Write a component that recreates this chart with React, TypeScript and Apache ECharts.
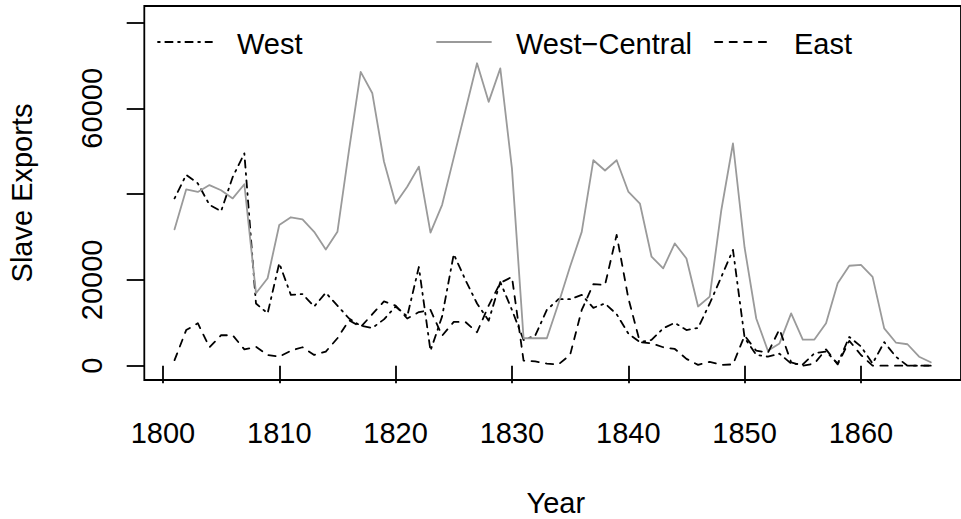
import React, { useEffect, useRef } from "react";
import * as echarts from "echarts";

const years = [
  1801, 1802, 1803, 1804, 1805, 1806, 1807, 1808, 1809, 1810,
  1811, 1812, 1813, 1814, 1815, 1816, 1817, 1818, 1819, 1820,
  1821, 1822, 1823, 1824, 1825, 1826, 1827, 1828, 1829, 1830,
  1831, 1832, 1833, 1834, 1835, 1836, 1837, 1838, 1839, 1840,
  1841, 1842, 1843, 1844, 1845, 1846, 1847, 1848, 1849, 1850,
  1851, 1852, 1853, 1854, 1855, 1856, 1857, 1858, 1859, 1860,
  1861, 1862, 1863, 1864, 1865, 1866,
];

const west = [
  39000, 44500, 42500, 37500, 36000, 44000, 49500, 14500, 12200, 23900,
  16500, 16700, 13800, 17000, 14000, 11000, 9300, 8800, 10800, 13800,
  11500, 23000, 3500, 11500, 26000, 20000, 14500, 10500, 19500, 13000,
  6000, 7000, 13000, 15500, 15500, 16500, 13500, 14500, 12000, 7500,
  5500, 6000, 8700, 10000, 8300, 8800, 14500, 20700, 27000, 6500,
  2500, 2100, 2800, 500, 300, 2900, 3300, 500, 6700, 4500,
  500, 5500, 2100, 0, 0, 0,
];

const westCentral = [
  31800, 41100, 40500, 42100, 40900, 39000, 42300, 16900, 20400, 32800,
  34600, 34100, 31200, 27100, 31200, 50300, 68500, 63500, 47600, 37800,
  41700, 46400, 31000, 37500, 48500, 59500, 70500, 61500, 69300, 46000,
  6400, 6400, 6400, 14500, 23100, 31200, 47900, 45500, 47900, 40600,
  37800, 25400, 22700, 28500, 25000, 13800, 16100, 36300, 51800, 27500,
  11000, 3500, 5200, 12200, 6100, 6100, 9900, 19200, 23300, 23500,
  20700, 8700, 5400, 5000, 2100, 800,
];

const east = [
  1300, 8300, 9900, 4300, 7100, 7100, 3800, 4400, 2500, 2100,
  3500, 4300, 2500, 3300, 6400, 10600, 9000, 12000, 15000, 14000,
  11000, 12500, 13000, 7000, 10200, 10200, 7800, 14000, 19300, 20700,
  1200, 1000, 500, 300, 2500, 13000, 19000, 18800, 30500, 15800,
  5500, 5200, 4300, 3900, 1600, 200, 900, 200, 300, 7000,
  3500, 3000, 8500, 800, 0, 500, 3800, 300, 5800, 2500,
  0, 0, 0, 0, 0, 0,
];

const xTicks = [1800, 1810, 1820, 1830, 1840, 1850, 1860];
const yTicks = [0, 20000, 40000, 60000, 80000];
const yLabels = [0, 20000, 60000];
const legendNames = ["West", "West\u2212Central", "East"];

const FONT = "'Liberation Sans', Arial, Helvetica, sans-serif";
const FS = 29;
const LW = 1.8;
const DOTDASH = [1.8, 5.5, 7.3, 5.5];
const DASHED = [7.3, 7.3];
const GRAY = "#9a9a9a";

export default function App() {
  const ref = useRef<HTMLDivElement>(null);
  useEffect(() => {
    if (!ref.current) return;
    const chart = echarts.init(ref.current, null, { renderer: "svg" });
    const mk = (vals: number[]) => years.map((y, i) => [y, vals[i]]);
    const legendStyles = [
      { color: "#000", dash: DOTDASH },
      { color: GRAY, dash: null as any },
      { color: "#000", dash: DASHED },
    ];
    const legendX = [158, 437, 715];
    const graphics: any[] = [];
    legendNames.forEach((n, i) => {
      graphics.push({
        type: "line",
        shape: { x1: legendX[i], y1: 42, x2: legendX[i] + 54, y2: 42 },
        style: {
          stroke: legendStyles[i].color,
          lineWidth: LW,
          lineDash: legendStyles[i].dash,
          lineCap: "round",
        },
      });
      graphics.push({
        type: "text",
        x: legendX[i] + 79,
        y: 44,
        style: {
          text: n,
          fontSize: FS,
          fontFamily: FONT,
          fill: "#000",
          textAlign: "left",
          textVerticalAlign: "middle",
        },
      });
    });
    graphics.push({
      type: "text",
      x: 555.8,
      y: 503,
      style: {
        text: "Year",
        fontSize: FS,
        fontFamily: FONT,
        fill: "#000",
        textAlign: "center",
        textVerticalAlign: "middle",
      },
    });
    graphics.push({
      type: "text",
      x: 22,
      y: 193,
      rotation: Math.PI / 2,
      style: {
        text: "Slave Exports",
        fontSize: FS,
        fontFamily: FONT,
        fill: "#000",
        textAlign: "center",
        textVerticalAlign: "middle",
      },
    });

    const lineSeries = (name: string, vals: number[], color: string, dash: any) => ({
      name,
      type: "line",
      data: mk(vals),
      showSymbol: false,
      symbol: "none",
      silent: true,
      lineStyle: {
        color,
        width: LW,
        type: dash || "solid",
        cap: "round",
        join: "round",
      },
    });

    chart.setOption({
      animation: false,
      graphic: graphics,
      grid: {
        left: 144.3,
        top: 6,
        width: 823,
        height: 374,
        show: true,
        borderColor: "#000",
        borderWidth: LW,
        backgroundColor: "transparent",
        containLabel: false,
      },
      xAxis: {
        type: "value",
        min: 1798.4,
        max: 1868.6,
        splitLine: { show: false },
        axisLine: { show: false },
        axisTick: {
          show: true,
          customValues: xTicks,
          length: 17.6,
          lineStyle: { color: "#000", width: LW },
        },
        axisLabel: {
          show: true,
          customValues: xTicks,
          formatter: (v: number) => String(v),
          fontSize: FS,
          fontFamily: FONT,
          color: "#000",
          margin: 38,
        },
      },
      yAxis: {
        type: "value",
        min: -3333,
        max: 83846,
        splitLine: { show: false },
        axisLine: { show: false },
        axisTick: {
          show: true,
          customValues: yTicks,
          length: 17.6,
          lineStyle: { color: "#000", width: LW },
        },
        axisLabel: {
          show: true,
          customValues: yLabels,
          formatter: (v: number) => String(v),
          rotate: 90,
          fontSize: FS,
          fontFamily: FONT,
          color: "#000",
          margin: 38,
        },
      },
      series: [
        lineSeries("West", west, "#000", DOTDASH),
        lineSeries("West\u2212Central", westCentral, GRAY, null),
        lineSeries("East", east, "#000", DASHED),
      ],
    });
    return () => chart.dispose();
  }, []);
  return (
    <div
      ref={ref}
      style={{ position: "fixed", left: 0, top: 0, width: 961, height: 519, background: "#fff" }}
    />
  );
}
